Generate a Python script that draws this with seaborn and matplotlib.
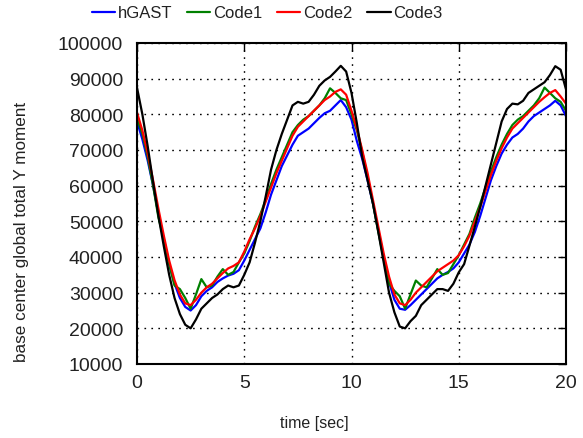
import numpy as np
import pandas as pd
import matplotlib
matplotlib.use("Agg")
import matplotlib.pyplot as plt
import seaborn as sns

time_sec = [i * 0.25 for i in range(81)]

hgast = [78000, 73000, 67000, 60000, 52000, 45000, 38000, 32500, 28500, 26000,
         25000, 26500, 29000, 30500, 31500, 33000, 34000, 34800, 35300, 36300,
         39000, 42000, 45000, 48000, 52500, 57500, 61500, 65500, 68500, 71500,
         74000, 75000, 76000, 77500, 79000, 80300, 81000, 82500, 84000, 82000,
         78500, 72500, 67500, 61500, 55000, 47500, 40000, 33000, 28000, 25500,
         25200, 26500, 28000, 29500, 31000, 32500, 34000, 35000, 35800, 36800,
         38500, 41000, 43500, 47000, 51500, 56500, 61500, 65500, 69000, 71500,
         73500, 74500, 76000, 78000, 79500, 80500, 81500, 82500, 83800, 82500,
         79500]

code1 = [79000, 74500, 68000, 60000, 51000, 45000, 38000, 32000, 31000, 28500,
         25500, 29500, 33800, 31500, 32000, 34500, 36600, 35000, 35800, 38500,
         41000, 44500, 48500, 52000, 56000, 60500, 64500, 68000, 71500, 75000,
         77000, 78500, 79500, 81000, 82500, 84500, 87300, 86000, 84500, 84000,
         80000, 75500, 69500, 62500, 55000, 47000, 39500, 32500, 30500, 29000,
         25500, 29500, 33400, 32000, 31500, 34000, 36600, 35000, 35500, 38000,
         40500, 43500, 46500, 51000, 55000, 59500, 64000, 68000, 71500, 74500,
         77000, 78500, 79500, 81000, 82500, 84500, 87500, 86000, 84500, 83500,
         81000]

code2 = [80500, 75500, 69000, 61500, 53500, 46000, 39000, 33500, 29500, 27000,
         26500, 28000, 30000, 31500, 32500, 34000, 35500, 36800, 37500, 38500,
         41500, 45000, 48000, 51500, 55500, 59500, 63500, 67000, 70500, 74000,
         76500, 78000, 79500, 81000, 82500, 84000, 85000, 86300, 87000, 85500,
         81000, 76000, 70000, 63500, 56000, 48500, 41000, 34500, 29500, 27000,
         26500, 28000, 30000, 31500, 33000, 34500, 36000, 37000, 38000, 39000,
         40500, 43000, 46000, 50000, 54000, 58500, 63000, 67000, 70500, 73500,
         76000, 77500, 79000, 80500, 82000, 83500, 84800, 86000, 86800, 85000,
         83000]

code3 = [87500, 80000, 71000, 61000, 51500, 43000, 35000, 28500, 24000, 21000,
         20000, 22500, 25500, 27000, 28500, 29500, 31000, 32000, 31500, 32000,
         35000, 38500, 44000, 50000, 57000, 64500, 70000, 74500, 78500, 82500,
         83500, 83000, 83500, 85500, 88000, 89500, 90500, 92000, 93600, 92000,
         86000, 77500, 68000, 61500, 55000, 47000, 38500, 30000, 24500, 20500,
         20000, 22000, 23500, 26500, 28000, 29500, 31000, 31000, 30500, 32500,
         35700, 38000, 43200, 48500, 54000, 60000, 66000, 72000, 78000, 81500,
         83000, 82800, 83800, 86000, 87000, 88000, 89000, 91000, 93500, 92500,
         87000]

series_names = ["hGAST", "Code1", "Code2", "Code3"]
series_colors = ["#0000ff", "#008000", "#ff0000", "#000000"]
y_ticks = [10000, 20000, 30000, 40000, 50000, 60000, 70000, 80000, 90000, 100000]
x_ticks = [0, 5, 10, 15, 20]

frames = []
for name, vals in zip(series_names, [hgast, code1, code2, code3]):
    frames.append(pd.DataFrame({"time": time_sec, "value": vals, "series": name}))
df = pd.concat(frames, ignore_index=True)

sns.set_style("white")
plt.rcParams["font.family"] = ["Liberation Sans", "DejaVu Sans"]

fig = plt.figure(figsize=(5.83, 4.39), dpi=100)
ax = fig.add_axes([137/583, 1-365/439, (566-137)/583, (365-44)/439])

sns.lineplot(data=df, x="time", y="value", hue="series", hue_order=series_names,
             palette=dict(zip(series_names, series_colors)), linewidth=1.6,
             ax=ax, legend=False)
for ln in ax.get_lines():
    ln.set_solid_joinstyle("round")

ax.set_xlim(0, 20)
ax.set_ylim(10000, 100000)
ax.set_xticks(x_ticks)
ax.set_yticks(y_ticks)
ax.set_xticklabels([str(v) for v in x_ticks], fontsize=14)
ax.set_yticklabels([str(v) for v in y_ticks], fontsize=14)
ax.tick_params(direction="in", length=6, width=1, top=True, right=True,
               colors="black", labelcolor="#222222")
ax.tick_params(axis="y", pad=10)
ax.tick_params(axis="x", pad=7)
ax.grid(True, linestyle=(0, (1.2, 3.8)), color="black", linewidth=1)
for s in ax.spines.values():
    s.set_color("black")
    s.set_linewidth(1.5)
ax.set_xlabel("time [sec]", fontsize=11.5, color="#222222")
ax.set_ylabel("base center global total Y moment", fontsize=12.3, color="#222222")
ax.xaxis.set_label_coords((314-137)/429, (365-416)/321)
ax.yaxis.set_label_coords((29-137)/429, (365-232)/321)

handles = [plt.Line2D([], [], color=c, lw=1.6) for c in series_colors]
fig.legend(handles, series_names, loc="center", bbox_to_anchor=(267/583, 1-14/439),
           ncol=4, frameon=False, fontsize=12, handlelength=1.4,
           handletextpad=0.15, columnspacing=0.9, labelcolor="#222222")

fig.savefig("out.png", dpi=100)
